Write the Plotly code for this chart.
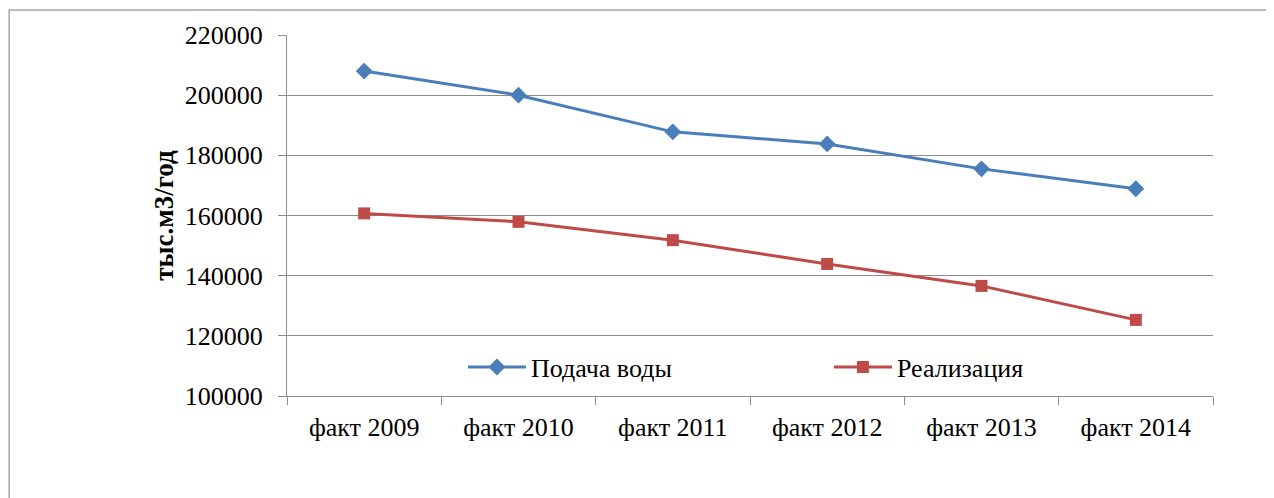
import plotly.graph_objects as go

# chart values
years = ['факт 2009', 'факт 2010', 'факт 2011', 'факт 2012', 'факт 2013', 'факт 2014']
water_supply = [208000, 200000, 187800, 183800, 175500, 168900]
sales = [160700, 157900, 151800, 143900, 136600, 125300]

serif = "Liberation Serif, Times New Roman, serif"

fig = go.Figure()

fig.add_trace(go.Scatter(
    x=years, y=water_supply,
    mode='lines+markers',
    name='Подача воды',
    line=dict(color='#4a7ebb', width=3),
    marker=dict(symbol='diamond', size=13, color='#4a7ebb')
))

fig.add_trace(go.Scatter(
    x=years, y=sales,
    mode='lines+markers',
    name='Реализация',
    line=dict(color='#be4b48', width=3),
    marker=dict(symbol='square', size=12, color='#be4b48')
))

# outer chart border (only top and left edges fall inside the picture)
fig.add_shape(
    type='rect', xref='paper', yref='paper',
    x0=-0.3, x1=1.3, y0=-0.6, y1=1.0693,
    line=dict(color='#a6a6a6', width=1.5),
    layer='below'
)

# page body adds an 8px offset, so the figure is 8px smaller on each side
fig.update_layout(
    width=1266, height=490,
    margin=dict(l=279, r=61, t=27, b=102, autoexpand=False),
    paper_bgcolor='white',
    plot_bgcolor='white',
    font=dict(family=serif, size=26, color='black'),
    showlegend=True,
    legend=dict(
        orientation='h',
        x=0.19, y=0.08,
        xanchor='left', yanchor='middle',
        bgcolor='rgba(0,0,0,0)',
        itemwidth=58,
        entrywidth=293, entrywidthmode='pixels',
        font=dict(family=serif, size=26, color='black')
    )
)

fig.update_xaxes(
    type='category',
    range=[-0.5, 5.5],
    showline=True, linecolor='#8c8c8c', linewidth=1,
    ticks='outside', tickson='boundaries', ticklen=8, tickcolor='#8c8c8c',
    ticklabelstandoff=8,
    showgrid=False,
    tickfont=dict(family=serif, size=26, color='black')
)

fig.update_yaxes(
    range=[100000, 220000],
    dtick=20000,
    tickformat='d',
    showline=True, linecolor='#8c8c8c', linewidth=1,
    ticks='outside', ticklen=8, tickcolor='#8c8c8c',
    ticklabelstandoff=10,
    showgrid=True, gridcolor='#8c8c8c', gridwidth=1,
    zeroline=False,
    tickfont=dict(family=serif, size=26, color='black'),
    title=dict(text='<b>тыс.м3/год</b>', standoff=3,
               font=dict(family=serif, size=27, color='black'))
)

fig.write_html("out.html")
